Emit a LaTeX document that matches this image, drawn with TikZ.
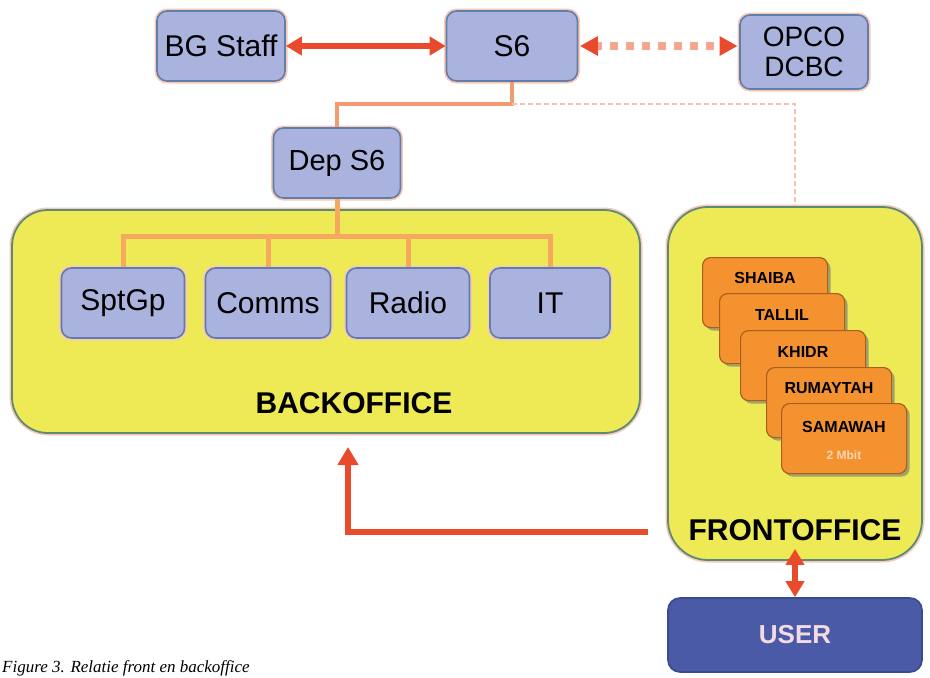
\documentclass[tikz,border=0pt]{standalone}
\usepackage{fontspec}
\setmainfont{Liberation Sans}
\newfontfamily\capfont{Liberation Serif}
\usetikzlibrary{arrows.meta,shadows}

\definecolor{boxfill}{HTML}{AAB3DD}
\definecolor{boxline}{HTML}{5F7FA8}
\definecolor{glow}{HTML}{F8C8B8}
\definecolor{yellowfill}{HTML}{EEEA55}
\definecolor{yellowline}{HTML}{5A8A78}
\definecolor{cardfill}{HTML}{F59230}
\definecolor{cardline}{HTML}{A86020}
\definecolor{userfill}{HTML}{4B5AA6}
\definecolor{userline}{HTML}{3A4A90}
\definecolor{usertext}{HTML}{F2DCE4}
\definecolor{linkred}{HTML}{EA4A2C}
\definecolor{busline}{HTML}{F7A860}
\definecolor{orgline}{HTML}{F49A70}
\definecolor{faintline}{HTML}{F6C0B0}
\definecolor{dotline}{HTML}{F5A590}

\tikzset{
  unit/.style={draw=boxline, fill=boxfill, line width=1.6pt, rounded corners=10pt,
    preaction={draw=glow, line width=5pt},
    minimum height=70pt, inner sep=2pt, align=center,
    font=\fontsize{30}{30}\selectfont},
  office/.style={draw=yellowline, fill=yellowfill, line width=1.8pt,
    preaction={draw=glow, line width=5pt}},
  officetitle/.style={font=\bfseries\fontsize{30}{30}\selectfont},
  card/.style={draw=cardline, fill=cardfill, line width=1.2pt, rounded corners=8pt,
    minimum width=125pt, minimum height=70pt, anchor=north west,
    drop shadow={shadow xshift=3pt, shadow yshift=-3pt, fill=black!55, opacity=0.6}},
  cardtext/.style={font=\bfseries\fontsize{16}{16}\selectfont},
  redlink/.style={draw=linkred, line width=5.5pt},
  redtips/.style={{Triangle[length=16pt,width=18pt]}-{Triangle[length=16pt,width=18pt]}},
  uptip/.style={-{Triangle[length=18pt,width=20pt]}},
  bus/.style={draw=busline, line width=5pt},
}

\begin{document}
\begin{tikzpicture}[x=1pt,y=-1pt]
\useasboundingbox (0,0) rectangle (930,678);
\clip (0,0) rectangle (930,678);
\fill[white] (0,0) rectangle (930,678);

% containers
\node[office, rounded corners=36pt, minimum width=628pt, minimum height=223pt]
  (back) at (326,321.5) {};
\node[office, rounded corners=40pt, minimum width=254pt, minimum height=353pt]
  (front) at (795,383.5) {};
\node[officetitle] (backtitle) at (354,403) {BACKOFFICE};
\node[officetitle] (fronttitle) at (795,530) {FRONTOFFICE};

% top row
\node[unit, minimum width=128pt] (bg) at (221,46) {BG Staff};
\node[unit, minimum width=131pt] (s6) at (512,46) {S6};
\node[unit, minimum width=128pt, minimum height=74pt, font=\fontsize{28}{30}\selectfont]
  (opco) at (804,52) {OPCO\\DCBC};
\node[unit, minimum width=127pt, font=\fontsize{29}{29}\selectfont] (dep) at (337,163) {Dep S6};

% backoffice units
\node[unit, minimum width=123pt] (spt) at (123,303) {SptGp};
\node[unit, minimum width=125pt] (comms) at (268,303) {Comms};
\node[unit, minimum width=123pt] (radio) at (408,303) {Radio};
\node[unit, minimum width=120pt] (it) at (550,303) {IT};

% frontoffice sites, stacked back to front
\node[card] (shaiba) at (702,257) {};
\node[cardtext] at (765,278) {SHAIBA};
\node[card] (tallil) at (719,293) {};
\node[cardtext] at (782,315) {TALLIL};
\node[card] (khidr) at (740,330) {};
\node[cardtext] at (803,352) {KHIDR};
\node[card] (rumaytah) at (766,367) {};
\node[cardtext] at (829,388) {RUMAYTAH};
\node[card] (samawah) at (781,403) {};
\node[cardtext] at (844,427) {SAMAWAH};
\node[font=\bfseries\fontsize{12}{12}\selectfont, text=white!90!orange, opacity=0.7]
  (samsub) at (844,455) {2 Mbit};

% user
\node[draw=userline, fill=userfill, line width=1.6pt, rounded corners=12pt,
  minimum width=254pt, minimum height=74pt, text=usertext,
  font=\bfseries\fontsize{26}{26}\selectfont] (user) at (795,635) {USER};

% links
\draw[redlink, redtips] (bg.east) -- (s6.west);
\draw[draw=dotline, line width=8pt, dash pattern=on 8pt off 8pt, shorten <=16pt, shorten >=16pt]
  (s6.east) -- (opco.west |- s6.east);
\draw[draw=linkred, line width=1pt, fill=linkred] (s6.east) ++(3,0) -- ++(16,-9) -- ++(0,18) -- cycle;
\path (opco.west |- s6.east) coordinate (opcoin);
\draw[draw=linkred, line width=1pt, fill=linkred] (opcoin) ++(-3,0) -- ++(-16,-9) -- ++(0,18) -- cycle;

\draw[draw=orgline, line width=4pt] (s6.south) -- ++(0,22) -| (dep.north);
\draw[draw=faintline, line width=2.5pt, dash pattern=on 5pt off 3pt]
  (s6.south) ++(0,22) -| (front.north);

\coordinate (busy) at (337,236);
\draw[bus] (dep.south) -- (busy);
\draw[bus] (spt.north) |- (busy) -| (it.north);
\draw[bus] (comms.north) -- (comms.north |- busy);
\draw[bus] (radio.north) -- (radio.north |- busy);

\coordinate (foout) at (648,532);
\coordinate (boin) at (348,447);
\draw[redlink, uptip] (foout) -| (boin);
\draw[redlink, redtips] ([yshift=12pt]front.south) -- (user.north);

% caption
\node[anchor=base west, inner sep=0pt, font=\capfont\itshape\fontsize{17}{17}\selectfont]
  (caption) at (2,672) {Figure 3. Relatie front en backoffice};
\end{tikzpicture}
\end{document}
